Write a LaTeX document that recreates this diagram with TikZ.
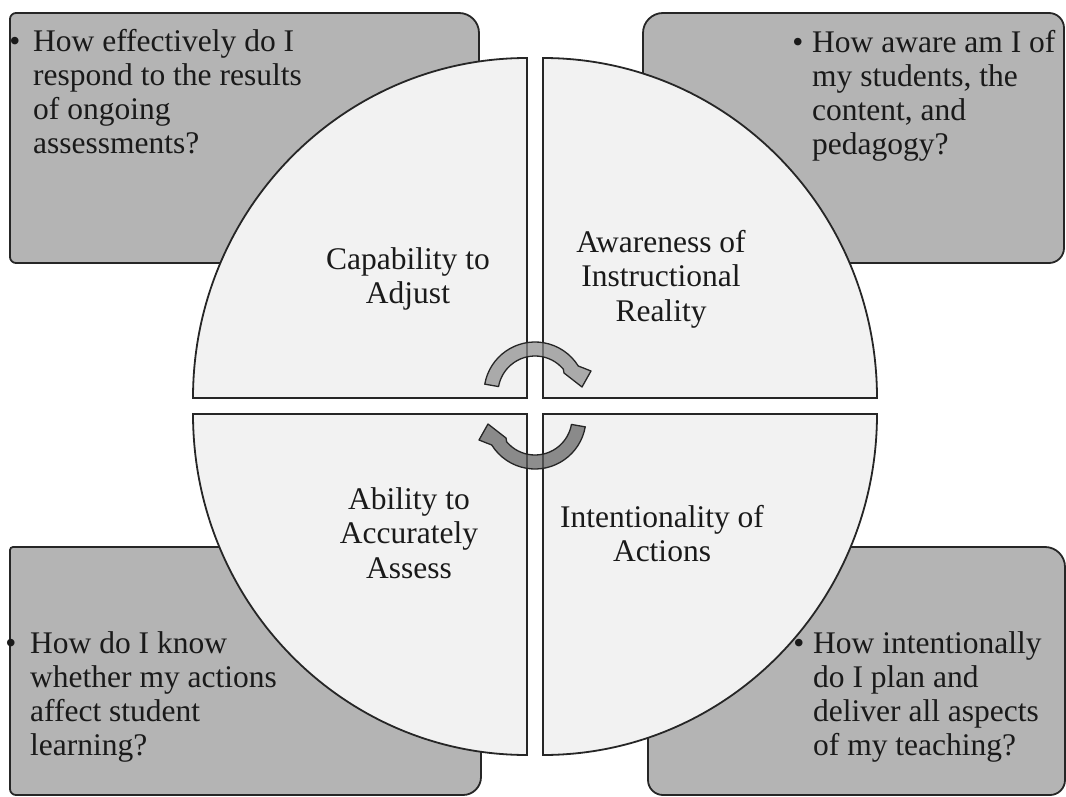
\documentclass[tikz,border=0pt]{standalone}
\usepackage{fontspec}
\setmainfont{Liberation Serif}
\usetikzlibrary{calc}

\definecolor{boxfill}{HTML}{B4B4B4}
\definecolor{quarterfill}{HTML}{F2F2F2}
\definecolor{edgecol}{HTML}{262626}
\definecolor{inkcol}{HTML}{1A1A1A}
\definecolor{arrowlight}{HTML}{8C8C8C}
\definecolor{arrowdark}{HTML}{5E5E5E}

% box with four separate corner radii: x1, y1, x2, y2, then radii TL, TR, BR, BL
\newcommand\qbox[8]{%
  \path[questionbox] (#1+#5,#2) -- (#3-#6,#2)
    arc[start angle=270,end angle=360,radius=#6] -- (#3,#4-#7)
    arc[start angle=0,end angle=90,radius=#7] -- (#1+#8,#4)
    arc[start angle=90,end angle=180,radius=#8] -- (#1,#2+#5)
    arc[start angle=180,end angle=270,radius=#5] -- cycle;}

\begin{document}
\begin{tikzpicture}[x=1pt,y=-1pt,
  questionbox/.style={fill=boxfill,draw=edgecol,line width=1.8pt},
  quarter/.style={fill=quarterfill,draw=edgecol,line width=1.8pt},
  cyclearrow/.style={fill=#1,fill opacity=0.7,draw=edgecol,draw opacity=1,line width=1.3pt,line join=round},
  qtext/.style={anchor=base west,inner sep=0pt,text=inkcol,font=\fontsize{31.5}{34}\selectfont},
  qbullet/.style={anchor=base,inner sep=0pt,text=inkcol,font=\fontsize{31.5}{34}\selectfont},
  qlabel/.style={anchor=base,inner sep=0pt,text=inkcol,font=\fontsize{31.5}{34.5}\selectfont}]
\useasboundingbox (0,0) rectangle (1066,797);

% question boxes behind the circle
\qbox{10}{13}{479}{263}{6}{20}{20}{6}
\qbox{643}{13}{1064}{263}{20}{15}{15}{20}
\qbox{10}{547}{481}{795}{3}{20}{18}{6}
\qbox{648}{547}{1065}{795}{20}{20}{15}{15}

% the four quarters of the circle
\path[quarter] (527,398) -- (193,398) arc[start angle=180,end angle=270,x radius=334,y radius=340] -- cycle;
\path[quarter] (543,398) -- (543,58) arc[start angle=270,end angle=360,x radius=334,y radius=340] -- cycle;
\path[quarter] (543,414) -- (877,414) arc[start angle=0,end angle=90,x radius=334,y radius=341] -- cycle;
\path[quarter] (527,414) -- (527,755) arc[start angle=90,end angle=180,x radius=334,y radius=341] -- cycle;

% circular arrows in the middle
\begin{scope}[shift={(535,393)}]
  \path[cyclearrow=arrowlight] (190:51) arc[start angle=190,end angle=328,radius=51]
    -- (56,-22) -- (47,-6) -- (29,-20) -- (320:37)
    arc[start angle=320,end angle=190,radius=37] -- cycle;
\end{scope}
\begin{scope}[rotate around={180:(535,405.5)},shift={(535,393)}]
  \path[cyclearrow=arrowdark] (190:51) arc[start angle=190,end angle=328,radius=51]
    -- (56,-22) -- (47,-6) -- (29,-20) -- (320:37)
    arc[start angle=320,end angle=190,radius=37] -- cycle;
\end{scope}

% quarter labels
\node[qlabel] (adjust) at (408,269) {\begin{tabular}[t]{@{}c@{}}Capability to\\Adjust\end{tabular}};
\node[qlabel] (aware) at (661,252) {\begin{tabular}[t]{@{}c@{}}Awareness of\\Instructional\\Reality\end{tabular}};
\node[qlabel] (assess) at (409,509) {\begin{tabular}[t]{@{}c@{}}Ability to\\Accurately\\Assess\end{tabular}};
\node[qlabel] (intent) at (662,527) {\begin{tabular}[t]{@{}c@{}}Intentionality of\\Actions\end{tabular}};

% questions
\node[qbullet] (b1) at (15,52) {•};
\node[qtext] (q1) at (33,52) {\begin{tabular}[t]{@{}l@{}}How effectively do I\\respond to the results\\of ongoing\\assessments?\end{tabular}};
\node[qbullet] (b2) at (798,53) {•};
\node[qtext] (q2) at (812,53) {\begin{tabular}[t]{@{}l@{}}How aware am I of\\my students, the\\content, and\\pedagogy?\end{tabular}};
\node[qbullet] (b3) at (11,653) {•};
\node[qtext] (q3) at (30,653) {\begin{tabular}[t]{@{}l@{}}How do I know\\whether my actions\\affect student\\learning?\end{tabular}};
\node[qbullet] (b4) at (799,653) {•};
\node[qtext] (q4) at (813,653) {\begin{tabular}[t]{@{}l@{}}How intentionally\\do I plan and\\deliver all aspects\\of my teaching?\end{tabular}};
\end{tikzpicture}
\end{document}
